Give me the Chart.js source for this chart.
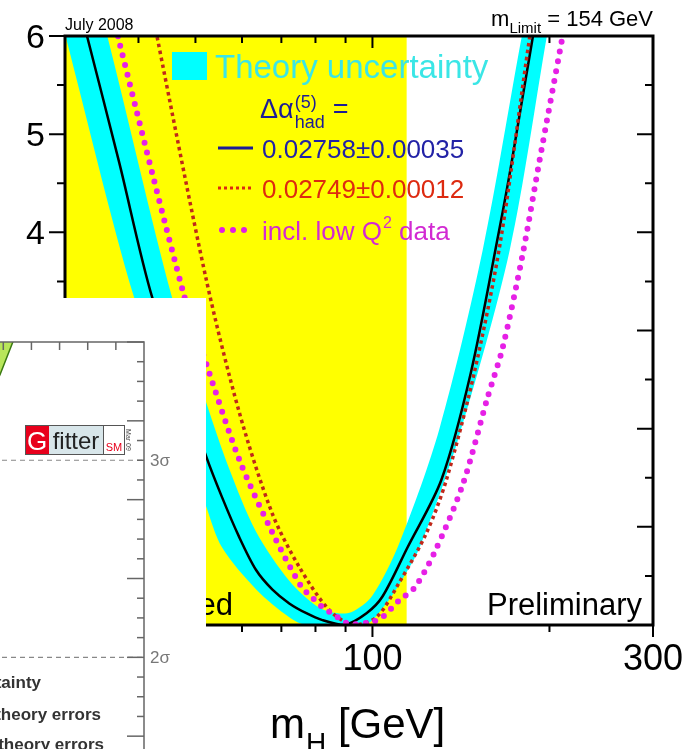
<!DOCTYPE html>
<html>
<head>
<meta charset="utf-8">
<script src="https://cdn.jsdelivr.net/npm/chart.js@4/dist/chart.umd.min.js"></script>
<style>
  body { margin: 0; background: #fff; }
  #wrap { position: relative; width: 685px; height: 749px; overflow: hidden; }
  #main { position: absolute; left: 0; top: 0; }
  #inset { position: absolute; left: 0; top: 298px; width: 206px; height: 451px; overflow: hidden; background: #fff; }
  #gfit { position: absolute; left: -250px; top: 0; }
</style>
</head>
<body>
<div id="wrap">
  <canvas id="main" width="685" height="749"></canvas>
  <div id="inset"><canvas id="gfit" width="430" height="560"></canvas></div>
</div>
<script>
var FONT = "'Liberation Sans', Arial, sans-serif";

// LEP direct search exclusion (GeV)
var lepExcluded = [30, 114.4];

// delta chi2 vs mH, alpha_had = 0.02758 +- 0.00035
var fitMass = [32.7, 37.1, 42.2, 52.2, 55.5, 59.3, 63.4, 67.6, 72.2, 77.2, 82.2, 89.5, 97.7, 104, 114.7, 131, 147, 164, 172, 187.5, 195];
var fitChi2 = [6.0, 4.71, 3.34, 1.71, 1.30, 0.90, 0.56, 0.36, 0.22, 0.12, 0.05, 0.0, 0.12, 0.29, 0.79, 1.48, 2.57, 4.0, 4.67, 6.0, 6.5];

// theory uncertainty band edges
var bandLoMass = [30, 39.3, 52.2, 55.5, 63.5, 72.2, 77.2, 97, 105, 112, 120.3, 140, 171.2, 198, 205];
var bandLoChi2 = [6.02, 3.34, 1.2, 0.79, 0.36, 0.08, 0.0, 0.0, 0.2, 0.45, 0.79, 1.9, 3.82, 6.0, 6.5];
var bandHiMass = [30, 35.4, 45.6, 52.2, 57, 63.4, 72.2, 80, 85, 92, 100, 111.2, 130, 154, 179.5, 205];
var bandHiChi2 = [7.6, 6.0, 3.34, 2.26, 1.6, 0.95, 0.45, 0.2, 0.13, 0.13, 0.3, 0.84, 2.0, 3.82, 6.0, 7.8];

// alpha_had = 0.02749 +- 0.00012
var redMass = [42.5, 43.0, 52.2, 59.4, 67.5, 75.1, 84.5, 93, 101.6, 111, 123.6, 133.6, 149, 165, 185, 188];
var redChi2 = [6.2, 6.0, 3.51, 2.16, 1.14, 0.59, 0.15, 0.0, 0.08, 0.43, 0.94, 1.48, 2.57, 3.9, 5.98, 6.2];

// including low Q^2 data
var lowQMass = [36.7, 37.1, 47.8, 52.1, 59.4, 67.6, 75.7, 79, 81.9, 85.1, 87.8, 91.4, 99.6, 104, 111, 117.9, 127.5, 142.4, 157, 166.6, 180, 192.5, 210, 212];
var lowQChi2 = [6.1, 5.94, 3.36, 2.67, 1.68, 0.94, 0.39, 0.28, 0.19, 0.12, 0.07, 0.01, 0.03, 0.08, 0.25, 0.38, 0.74, 1.43, 2.32, 2.83, 3.77, 4.74, 5.96, 6.1];

var xTicks = [40, 50, 60, 70, 80, 90, 100, 200, 300];
var xLabels = [100, 300];
var yLabels = [0, 1, 2, 3, 4, 5, 6];

function pts(xs, ys) {
  return xs.map(function (x, i) { return { x: x, y: ys[i] }; });
}

function txt(ctx, s, x, y, size, color, align, weight) {
  ctx.font = (weight || '') + ' ' + size + 'px ' + FONT;
  ctx.fillStyle = color;
  ctx.textAlign = align || 'left';
  ctx.textBaseline = 'alphabetic';
  ctx.fillText(s, x, y);
  return ctx.measureText(s).width;
}

var frame = {
  id: 'frame',
  afterDraw: function (chart) {
    var ctx = chart.ctx, a = chart.chartArea;
    var xs = chart.scales.x, ys = chart.scales.y;
    ctx.save();
    ctx.strokeStyle = '#000';
    ctx.lineWidth = 2;
    // y ticks: outside on the left, inside on the right
    for (var v = 0; v <= 6; v += 0.5) {
      var py = ys.getPixelForValue(v);
      var major = v % 1 === 0;
      var len = major ? 16 : 8;
      ctx.beginPath();
      ctx.moveTo(a.left - len, py); ctx.lineTo(a.left, py);
      ctx.moveTo(a.right - len, py); ctx.lineTo(a.right, py);
      ctx.stroke();
    }
    xTicks.forEach(function (t) {
      var px = xs.getPixelForValue(t);
      var major = xLabels.indexOf(t) >= 0;
      ctx.beginPath();
      ctx.moveTo(px, a.bottom); ctx.lineTo(px, a.bottom + (major ? 12 : 7));
      ctx.moveTo(px, a.top); ctx.lineTo(px, a.top + (major ? 12 : 7));
      ctx.stroke();
    });
    ctx.lineWidth = 3;
    ctx.strokeRect(a.left, a.top, a.right - a.left, a.bottom - a.top);

    yLabels.forEach(function (v) {
      txt(ctx, String(v), a.left - 20, ys.getPixelForValue(v) + 12, 34, '#000', 'right');
    });
    xLabels.forEach(function (v) {
      txt(ctx, String(v), xs.getPixelForValue(v), 670, 36, '#000', 'center');
    });

    // axis title
    var x0 = 270;
    x0 += txt(ctx, 'm', x0, 738, 42, '#000');
    x0 += txt(ctx, 'H', x0 + 1, 752, 28, '#000');
    txt(ctx, ' [GeV]', x0 + 1, 738, 42, '#000');

    txt(ctx, 'July 2008', 65, 30, 16, '#000');
    ctx.font = '22px ' + FONT; var wa = ctx.measureText(' = 154 GeV').width;
    ctx.font = '15px ' + FONT; var wb = ctx.measureText('Limit').width;
    ctx.font = '22px ' + FONT; var wc = ctx.measureText('m').width;
    var sx = a.right - wa - wb - wc;
    sx += txt(ctx, 'm', sx, 26, 22, '#000');
    sx += txt(ctx, 'Limit', sx, 33, 15, '#000');
    txt(ctx, ' = 154 GeV', sx, 26, 22, '#000');

    txt(ctx, 'Preliminary', 642, 615, 31, '#000', 'right');
    txt(ctx, 'LEP excluded', 233, 615, 31, '#000', 'right');

    // legend
    ctx.fillStyle = '#00ffff';
    ctx.fillRect(172, 52, 35, 28);
    txt(ctx, 'Theory uncertainty', 215, 78, 33, '#3ae6e6');
    var blue = '#1c1c96';
    var dx = 260;
    dx += txt(ctx, '\u0394\u03b1', dx, 118, 27, blue);
    txt(ctx, '(5)', dx + 1, 108, 18, blue);
    var hw = txt(ctx, 'had', dx + 1, 128, 18, blue);
    txt(ctx, '=', dx + hw + 9, 118, 27, blue);

    ctx.lineCap = 'butt';
    ctx.strokeStyle = blue; ctx.lineWidth = 3;
    ctx.beginPath(); ctx.moveTo(218, 148); ctx.lineTo(253, 148); ctx.stroke();
    txt(ctx, '0.02758\u00b10.00035', 262, 158, 26, '#2222a6');

    ctx.strokeStyle = '#dd2a10'; ctx.setLineDash([3, 3]);
    ctx.beginPath(); ctx.moveTo(218, 188); ctx.lineTo(254, 188); ctx.stroke();
    ctx.setLineDash([]);
    txt(ctx, '0.02749\u00b10.00012', 262, 198, 26, '#dd2a10');

    ctx.fillStyle = '#e020e0';
    [222, 233, 244].forEach(function (cx) {
      ctx.beginPath(); ctx.arc(cx, 230, 3, 0, Math.PI * 2); ctx.fill();
    });
    var qx = 262;
    qx += txt(ctx, 'incl. low Q', qx, 240, 26, '#d22ad2');
    qx += txt(ctx, '2', qx + 1, 228, 16, '#d22ad2');
    txt(ctx, ' data', qx + 1, 240, 26, '#d22ad2');
    ctx.restore();
  }
};

new Chart(document.getElementById('main'), {
  type: 'line',
  data: {
    datasets: [
      { data: pts(lepExcluded, [6, 6]), borderWidth: 0, backgroundColor: '#ffff00', fill: 'origin', order: 6 },
      { data: pts(bandHiMass, bandHiChi2), borderWidth: 0, fill: false, tension: 0.3, order: 5 },
      { data: pts(bandLoMass, bandLoChi2), borderWidth: 0, backgroundColor: '#00ffff', fill: 1, tension: 0.3, order: 4 },
      { data: pts(fitMass, fitChi2), borderColor: '#000', borderWidth: 2.5, tension: 0.3, order: 3 },
      { data: pts(redMass, redChi2), borderColor: '#c0281a', borderWidth: 3.5, borderDash: [3.5, 3.5], tension: 0.3, order: 2 },
      { data: pts(lowQMass, lowQChi2), borderColor: '#e620e6', borderWidth: 6, borderDash: [0, 10], borderCapStyle: 'round', tension: 0.3, order: 1 }
    ]
  },
  options: {
    responsive: false,
    animation: false,
    layout: { padding: { left: 65, top: 36, right: 32, bottom: 124 } },
    elements: { point: { radius: 0 } },
    plugins: { legend: { display: false }, tooltip: { enabled: false } },
    scales: {
      x: { type: 'logarithmic', min: 30, max: 300, display: false },
      y: { type: 'linear', min: 0, max: 6, display: false }
    }
  },
  plugins: [frame]
});

// ---- Gfitter panel (only its right edge is in view) ----
var gfMass = [240, 246, 249, 253.4, 256];
var gfHi = [11.6, 12.6, 13.1, 13.9, 14.4];
var gfLo = [9.7, 10.7, 11.2, 12.0, 12.5];
var sigmaLevels = [1, 4, 9];
var sigmaNames = ['1\u03c3', '2\u03c3', '3\u03c3'];
var gfLegend = ['Theoretical uncertainty', 'fit w/o theory errors', 'fit incl. theory errors'];

var gfFrame = {
  id: 'gfFrame',
  afterDraw: function (chart) {
    var ctx = chart.ctx, a = chart.chartArea;
    var xs = chart.scales.x, ys = chart.scales.y;
    ctx.save();
    ctx.strokeStyle = '#666'; ctx.lineWidth = 1.5;
    ctx.beginPath();
    ctx.moveTo(a.left, a.top); ctx.lineTo(a.right, a.top); ctx.lineTo(a.right, a.bottom);
    ctx.stroke();
    for (var v = 0; v <= 12; v += 0.5) {
      var py = ys.getPixelForValue(v);
      var len = v % 2 === 0 ? 17 : 7;
      ctx.beginPath(); ctx.moveTo(a.right - len, py); ctx.lineTo(a.right, py); ctx.stroke();
    }
    for (var m = 170; m < 300; m += 10) {
      var px = xs.getPixelForValue(m);
      ctx.beginPath(); ctx.moveTo(px, a.top); ctx.lineTo(px, a.top + 8); ctx.stroke();
    }
    sigmaLevels.forEach(function (s, i) {
      txt(ctx, sigmaNames[i], a.right + 6, ys.getPixelForValue(s) + 6, 17, '#777');
    });
    txt(ctx, gfLegend[0], 291, 390, 17, '#333', 'right', 'bold');
    txt(ctx, gfLegend[1], 351, 422, 17, '#333', 'right', 'bold');
    txt(ctx, gfLegend[2], 354, 452, 17, '#333', 'right', 'bold');

    // Gfitter SM logo
    var lx = 275, ly = 127;
    ctx.fillStyle = '#e8001c'; ctx.fillRect(lx, ly, 24, 30);
    ctx.fillStyle = '#d8e6ea'; ctx.fillRect(lx + 24, ly, 54, 30);
    ctx.fillStyle = '#fff'; ctx.fillRect(lx + 78, ly, 21, 30);
    ctx.strokeStyle = '#555'; ctx.lineWidth = 1;
    ctx.strokeRect(lx + 0.5, ly + 0.5, 99, 29);
    ctx.beginPath(); ctx.moveTo(lx + 78.5, ly); ctx.lineTo(lx + 78.5, ly + 30); ctx.stroke();
    txt(ctx, 'G', lx + 12, ly + 25, 26, '#fff', 'center');
    txt(ctx, 'fitter', lx + 51, ly + 24, 24, '#222', 'center');
    txt(ctx, 'SM', lx + 89, ly + 26, 11, '#e8001c', 'center');
    ctx.translate(lx + 104, ly + 15);
    ctx.rotate(Math.PI / 2);
    txt(ctx, 'Mar 09', 0, 3, 7, '#444', 'center');
    ctx.restore();
  }
};

new Chart(document.getElementById('gfit'), {
  type: 'line',
  data: {
    datasets: [
      { data: pts([160, 300], [sigmaLevels[1], sigmaLevels[1]]), borderColor: '#888', borderWidth: 1.2, borderDash: [5, 4] },
      { data: pts([160, 300], [sigmaLevels[2], sigmaLevels[2]]), borderColor: '#888', borderWidth: 1.2, borderDash: [5, 4] },
      { data: pts(gfMass, gfHi), borderColor: '#3a7a10', borderWidth: 1, fill: false },
      { data: pts(gfMass, gfLo), borderColor: '#3a7a10', borderWidth: 1.5, backgroundColor: '#b8e65a', fill: 2 }
    ]
  },
  options: {
    responsive: false,
    animation: false,
    layout: { padding: { left: 0, top: 44, right: 36, bottom: 43 } },
    elements: { point: { radius: 0 } },
    plugins: { legend: { display: false }, tooltip: { enabled: false } },
    scales: {
      x: { type: 'linear', min: 160, max: 300, display: false },
      y: { type: 'linear', min: 0, max: 12, display: false }
    }
  },
  plugins: [gfFrame]
});
</script>
</body>
</html>
